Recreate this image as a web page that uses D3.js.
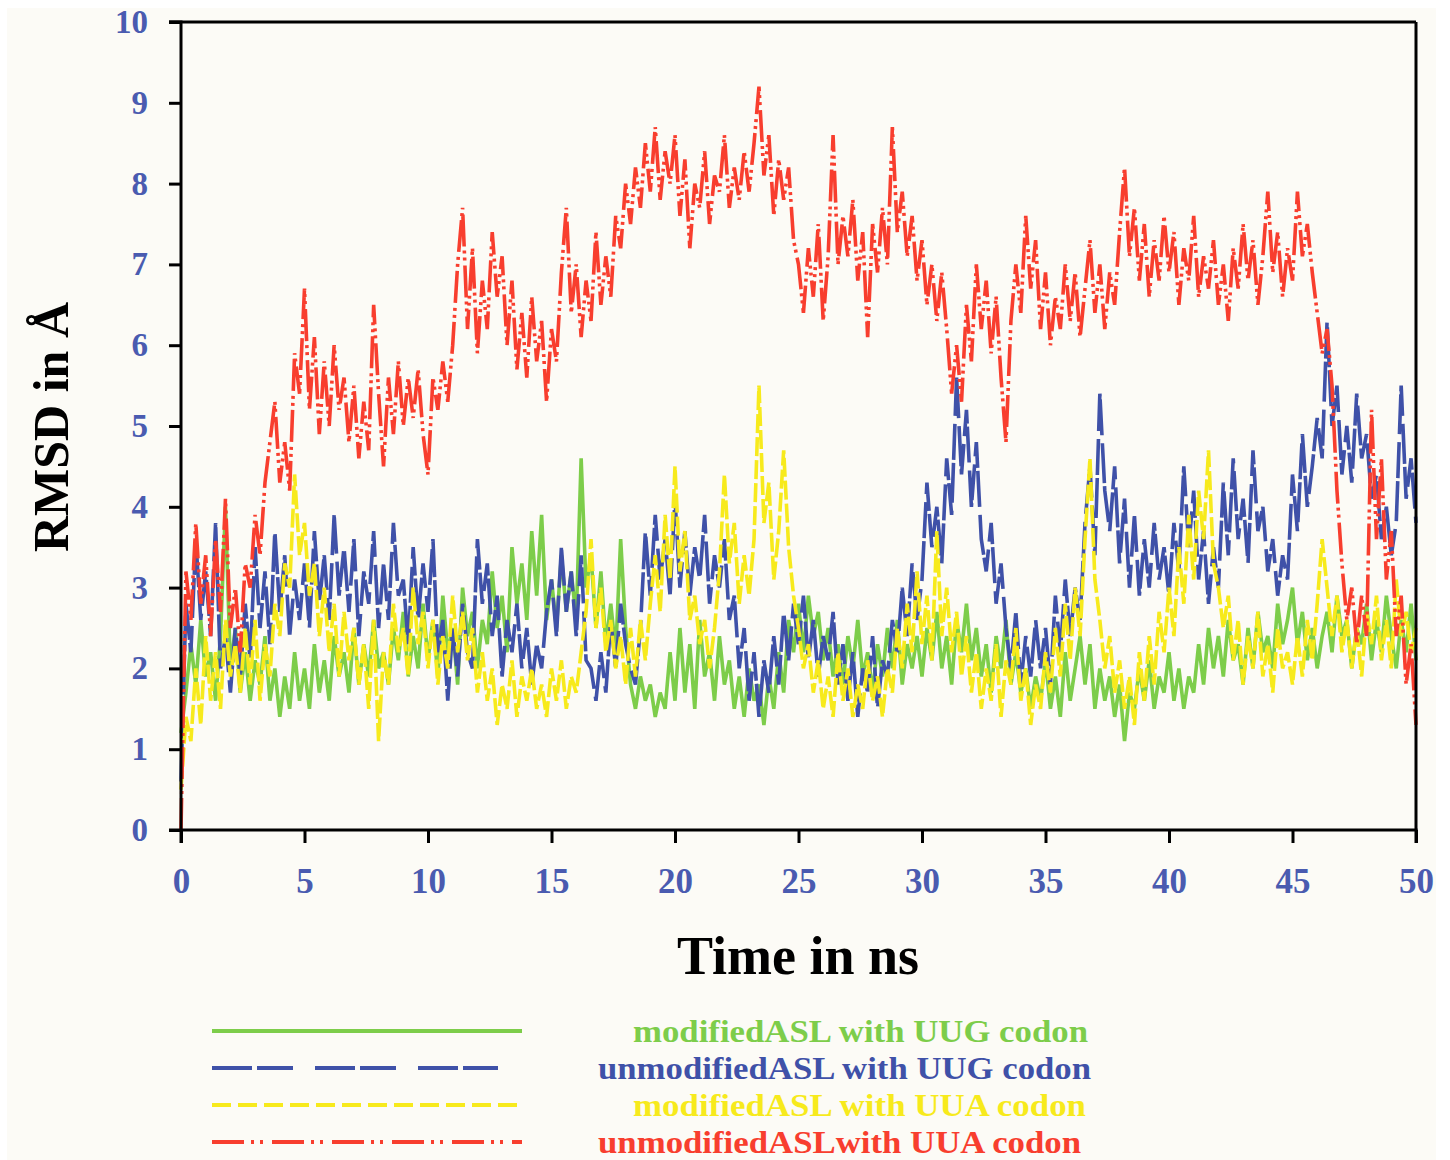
<!DOCTYPE html>
<html><head><meta charset="utf-8">
<script src="https://cdn.jsdelivr.net/npm/d3@7"></script>
<style>body{margin:0;background:#fff} svg{display:block}</style>
</head><body><svg id="c" width="1450" height="1160"></svg>
<script>
const timeStart = 0, timeEnd = 50, timeStep = 0.2;
const xTickValues = [0,5,10,15,20,25,30,35,40,45,50];
const yTickValues = [0,1,2,3,4,5,6,7,8,9,10];
const seriesLabels = ["modifiedASL with UUG codon","unmodifiedASL with UUG codon","modifiedASL with UUA codon","unmodifiedASLwith UUA codon"];

const greenUUG = [
1.2,1.7,2.3,1.8,2.6,1.9,2.2,1.6,2.4,4.0,2.0,2.5,1.7,2.2,1.6,2.1,1.8,2.4,1.6,2.0,1.4,1.9,1.5,2.2,1.6,
2.0,1.5,2.3,1.7,2.1,1.6,2.4,1.9,2.2,1.7,2.5,1.8,2.3,1.9,2.6,2.0,2.2,1.8,2.5,2.1,2.7,1.9,2.4,2.0,2.8,
2.1,2.6,1.9,2.9,2.2,2.5,1.8,3.0,2.4,2.7,2.0,2.6,2.3,3.2,2.5,2.9,2.2,3.5,2.8,3.3,2.6,3.7,2.9,3.9,2.6,
3.1,2.5,3.4,2.7,3.2,2.6,4.6,3.0,3.4,2.5,3.2,2.3,2.8,2.2,3.6,2.5,1.8,1.5,1.9,1.6,1.8,1.4,1.7,1.5,2.2,
1.6,2.5,1.7,2.3,1.5,2.6,1.9,2.2,1.6,2.4,1.8,2.1,1.5,1.9,1.4,2.0,1.6,1.8,1.3,1.9,1.5,2.2,1.7,2.6,2.2,
2.8,2.2,2.9,2.4,2.7,2.1,2.5,1.9,2.3,1.8,2.4,2.0,2.6,1.9,2.2,1.7,2.3,1.9,2.5,2.0,2.6,1.8,2.3,2.0,2.4,
1.9,2.5,2.1,2.7,2.0,2.4,1.8,2.6,2.2,2.8,2.1,2.5,1.9,2.3,1.7,2.4,2.0,2.6,1.8,2.2,1.7,2.0,1.5,1.9,1.6,
2.1,1.5,1.9,1.4,2.2,1.6,2.0,2.4,1.8,2.3,1.5,2.0,1.6,1.9,1.4,1.8,1.1,1.7,1.5,2.0,1.6,2.1,1.5,1.9,1.7,
2.2,1.6,2.0,1.5,1.9,1.7,2.3,1.8,2.5,2.0,2.4,1.9,2.6,2.1,2.3,1.8,2.5,2.0,2.7,2.2,2.4,2.0,2.8,2.3,2.6,
3.0,2.3,2.7,2.1,2.5,2.0,2.4,2.7,2.2,2.9,2.4,2.6,2.0,2.5,2.3,2.8,2.1,2.6,2.2,2.9,2.4,2.0,2.6,2.2,2.8,
2.1];

const blueUUG = [
0.6,2.8,2.2,3.6,2.6,3.2,2.4,3.8,2.0,2.4,1.7,2.5,1.9,2.8,2.1,3.5,2.5,3.2,2.3,3.7,2.7,3.4,2.4,3.1,2.6,
3.3,2.5,3.7,2.8,3.4,2.6,3.9,2.9,3.5,2.7,3.6,2.4,3.2,2.8,3.7,2.5,3.3,2.6,3.8,2.9,3.1,2.3,3.5,2.6,3.3,
2.7,3.6,2.2,2.6,1.6,2.5,1.9,2.8,2.2,2.0,3.6,2.8,3.3,2.4,2.9,1.9,2.6,2.2,2.8,2.0,2.5,1.8,2.3,2.0,2.7,
3.1,2.4,3.5,2.7,3.2,2.4,3.4,2.1,2.0,1.6,2.2,1.7,2.6,2.0,2.8,2.3,2.0,1.8,2.5,3.7,2.9,3.9,3.1,3.6,2.9,
4.1,3.0,3.7,2.9,3.5,3.1,3.9,2.8,3.4,3.0,3.6,2.6,2.9,2.0,2.5,1.6,2.2,1.4,2.1,1.7,2.4,1.8,2.7,2.1,2.8,
2.3,2.9,2.1,2.6,1.9,2.4,2.1,2.7,1.8,2.3,1.6,2.2,1.4,2.0,1.7,2.4,1.5,2.1,1.9,2.6,2.2,3.0,2.4,3.3,2.6,
3.1,4.3,3.5,4.0,3.3,4.6,3.9,5.6,4.4,5.2,4.0,4.8,3.6,3.2,3.8,2.8,3.3,2.5,2.0,2.7,1.8,2.4,1.9,2.6,2.0,
2.5,1.8,2.9,2.2,3.1,2.4,3.0,2.6,3.8,4.5,3.4,5.4,4.2,3.7,4.5,3.3,4.1,3.0,3.9,2.9,3.6,3.0,3.8,3.1,3.5,
2.9,3.8,3.2,4.5,3.5,4.2,3.1,3.7,2.8,3.5,3.0,4.3,3.4,4.6,3.6,4.1,3.3,4.7,3.7,4.0,3.2,3.6,2.9,3.4,3.1,
4.4,3.7,4.9,4.0,4.5,5.1,4.6,6.3,5.0,5.5,4.4,5.0,4.3,5.4,4.6,4.9,4.1,4.4,3.6,4.0,3.4,3.8,5.5,4.1,4.6,
3.8];

const yellowUUA = [
0.5,1.4,1.1,2.0,1.3,2.4,1.6,2.2,1.5,2.6,1.9,2.3,1.7,2.5,1.8,2.6,1.6,2.3,1.9,2.8,2.4,3.3,3.0,4.4,3.4,
3.8,2.9,3.3,2.4,3.0,2.2,2.8,1.9,2.7,2.1,2.5,1.8,2.3,1.5,2.6,1.1,2.2,1.8,2.8,2.2,2.5,1.9,3.0,2.3,2.7,
2.0,2.6,1.8,2.4,2.0,2.9,2.2,2.7,2.1,2.5,1.7,2.2,1.6,2.0,1.3,1.8,1.5,2.1,1.4,1.9,1.6,2.0,1.5,1.8,1.4,
2.0,1.6,2.1,1.5,1.9,1.7,2.2,2.7,3.6,2.5,3.0,2.2,2.6,2.0,2.4,1.8,2.5,1.9,2.6,2.1,2.8,3.4,2.7,3.9,3.1,
4.5,3.2,3.7,2.6,2.9,2.3,2.6,2.0,2.5,3.2,4.4,3.3,3.8,2.8,3.4,2.9,3.6,5.5,3.8,4.3,3.1,3.7,4.7,3.5,2.9,
2.5,2.0,2.3,1.7,2.1,1.5,1.9,1.4,2.2,1.6,2.0,1.4,1.8,1.5,2.1,1.6,1.9,1.4,2.0,1.7,2.5,2.0,2.8,2.2,3.2,
2.3,2.9,2.1,3.7,2.4,3.0,2.2,2.7,1.9,2.4,1.7,2.2,1.5,2.0,1.6,2.3,1.4,2.1,1.8,2.5,1.6,2.0,1.3,1.8,1.5,
2.2,1.7,2.5,1.9,2.8,2.1,3.0,2.4,3.6,4.6,3.1,2.6,2.0,2.4,1.7,2.1,1.5,1.9,1.3,2.2,1.6,2.4,1.8,2.7,2.2,
3.0,2.4,3.5,2.8,3.9,3.1,4.2,3.6,4.7,3.3,3.0,2.5,2.9,2.1,2.6,1.8,2.4,2.0,2.7,1.9,2.3,1.7,2.5,2.0,2.2,
1.8,2.4,1.9,2.6,2.1,2.8,3.6,3.0,2.4,2.9,2.2,2.6,2.0,2.5,1.9,2.7,2.3,2.9,2.1,2.6,2.0,3.1,2.4,2.7,2.2,
2.5];

const redUUA = [
0.0,3.2,2.6,3.8,2.8,3.4,2.4,3.6,2.7,4.1,2.5,3.0,2.2,3.3,3.0,3.9,3.4,4.3,4.8,5.3,4.3,4.8,4.2,5.9,5.4,
6.7,5.2,6.1,4.9,5.8,5.0,6.0,5.2,5.6,4.8,5.5,4.6,5.3,4.7,6.5,5.4,4.5,5.6,4.9,5.8,5.0,5.6,5.1,5.7,4.9,
4.4,5.6,5.2,5.8,5.3,6.0,7.0,7.7,6.2,7.2,5.9,6.8,6.2,7.4,6.6,7.1,6.0,6.8,5.7,6.4,5.6,6.6,5.8,6.3,5.3,
6.2,5.8,6.9,7.7,6.4,7.0,6.1,6.8,6.3,7.4,6.5,7.1,6.6,7.6,7.2,8.0,7.5,8.2,7.7,8.5,7.9,8.7,7.8,8.4,8.0,
8.6,7.6,8.3,7.2,8.0,7.7,8.4,7.5,8.1,7.9,8.6,7.7,8.2,7.8,8.4,7.9,8.5,9.2,8.1,8.6,7.6,8.3,7.8,8.2,7.3,
7.0,6.4,7.2,6.6,7.5,6.3,7.1,8.6,7.0,7.6,7.1,7.8,6.8,7.4,6.1,7.5,6.9,7.7,7.0,8.7,7.4,7.9,7.1,7.6,6.8,
7.3,6.5,7.0,6.3,6.9,6.2,5.4,6.0,5.3,6.5,5.8,7.0,6.2,6.8,5.9,6.6,5.6,4.8,6.3,7.0,6.4,7.6,6.7,7.3,6.2,
6.9,6.0,6.6,6.2,7.0,6.3,6.9,6.1,6.7,7.3,6.4,7.0,6.2,6.9,6.5,7.4,8.2,7.1,7.7,6.8,7.5,6.6,7.3,6.8,7.6,
6.9,7.4,6.5,7.2,6.8,7.6,6.6,7.1,6.7,7.3,6.5,7.0,6.3,7.2,6.7,7.5,6.8,7.3,6.5,7.1,7.9,6.9,7.4,6.6,7.2,
6.8,7.9,7.1,7.5,6.9,6.4,5.9,6.2,5.5,4.2,3.3,2.6,3.0,2.3,2.9,2.4,5.2,3.6,4.6,3.1,3.7,2.4,2.9,1.8,2.3,
1.3];

// ---- styles ----
const colors = ["#7dcd4a","#3f51a8","#f7ea1c","#f83e2e"];
const dashes = [null,"40,5,36,22","19,7","32,7,3,6,3,9"];
const plotDashes = [null,"40,3,36,8","19,4","32,4,3,4,3,5"];
const tickColor = "#4a5bb0";
const serif = "'Liberation Serif','Times New Roman',serif";

const svg = d3.select("#c");
svg.append("rect").attr("x",7).attr("y",8).attr("width",1429).attr("height",1160).attr("fill","#fcfbf6");

const m = {left:181, right:1416, top:22, bottom:830};
const x = d3.scaleLinear().domain([timeStart,timeEnd]).range([m.left,m.right]);
const y = d3.scaleLinear().domain([0,10]).range([m.bottom,m.top]);

const times = greenUUG.map((_,i)=>+(timeStart + i*timeStep).toFixed(2));
const series = [greenUUG, blueUUG, yellowUUA, redUUA];

const line = d3.line().x((d,i)=>x(times[i])).y(d=>y(d));
const plot = svg.append("g");
series.forEach((vals,k)=>{
  plot.append("path").datum(vals)
    .attr("d",line).attr("fill","none")
    .attr("stroke",colors[k]).attr("stroke-width",3.6)
    .attr("stroke-dasharray",plotDashes[k])
    .attr("stroke-linejoin","miter").attr("stroke-miterlimit",2);
});

// frame: top & right
svg.append("line").attr("x1",m.left-12).attr("x2",m.right).attr("y1",m.top).attr("y2",m.top).attr("stroke","#000").attr("stroke-width",3);
svg.append("line").attr("x1",m.right).attr("x2",m.right).attr("y1",m.top).attr("y2",m.bottom).attr("stroke","#000").attr("stroke-width",3);

// axes
const gy = svg.append("g").attr("transform",`translate(${m.left},0)`)
  .call(d3.axisLeft(y).tickValues(yTickValues).tickSize(12).tickPadding(21).tickFormat(d3.format("d")));
const gx = svg.append("g").attr("transform",`translate(0,${m.bottom})`)
  .call(d3.axisBottom(x).tickValues(xTickValues).tickSize(13).tickPadding(26).tickFormat(d3.format("d")));
[gy,gx].forEach(g=>{
  g.select(".domain").attr("stroke","#000").attr("stroke-width",3);
  g.selectAll(".tick line").attr("stroke","#000").attr("stroke-width",3);
  g.selectAll(".tick text").attr("fill",tickColor).attr("font-family",serif).attr("font-weight","bold");
});
gy.select(".domain").attr("d",`M-12,${m.top}H0V${m.bottom+13}`);
gx.select(".domain").attr("d",`M${m.left-12},0H${m.right}V13`);
gy.selectAll(".tick text").attr("font-size",33);
gx.selectAll(".tick text").attr("font-size",35).attr("dy","0.68em");

// axis titles
svg.append("text").attr("x",798).attr("y",974).attr("text-anchor","middle")
  .attr("font-family",serif).attr("font-weight","bold").attr("font-size",54).attr("fill","#000").text("Time in ns");
svg.append("text").attr("transform","translate(68,427) rotate(-90)").attr("text-anchor","middle")
  .attr("font-family",serif).attr("font-weight","bold").attr("font-size",50).attr("fill","#000").text("RMSD in Å");

// legend
const legY = [1031,1068,1105,1142];
const legEnd = [522,498,522,522];
const legTextStart = [633,598,633,598];
const legTextEnd = [1088,1091,1086,1081];
seriesLabels.forEach((lab,k)=>{
  svg.append("line").attr("x1",212).attr("x2",legEnd[k]).attr("y1",legY[k]).attr("y2",legY[k])
    .attr("stroke",colors[k]).attr("stroke-width",4).attr("stroke-dasharray",dashes[k]);
  svg.append("text").attr("x",legTextStart[k]).attr("y",legY[k]+11)
    .attr("textLength",legTextEnd[k]-legTextStart[k]).attr("lengthAdjust","spacingAndGlyphs")
    .attr("font-family",serif).attr("font-weight","bold").attr("font-size",32).attr("fill",colors[k]).text(lab);
});
</script></body></html>
